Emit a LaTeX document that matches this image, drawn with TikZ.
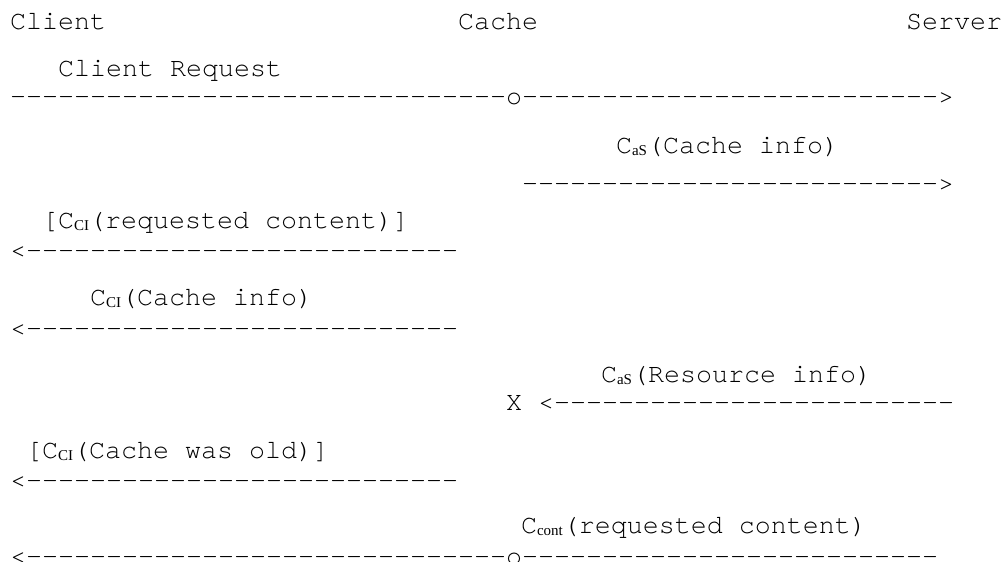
\documentclass[tikz,border=0pt]{standalone}
\usepackage{fontspec}
\setmonofont{TeX Gyre Cursor}[Ligatures=TeXOff]
\newfontfamily\subf{Liberation Serif}
\newcount\myrc
\newcommand\rdash[1]{\myrc=0 \loop\ifnum\myrc<#1 -\advance\myrc by 1 \repeat}
\newcommand\sbs[1]{\raisebox{-2pt}{\subf\fontsize{15}{15}\selectfont #1}}
\begin{document}
\begin{tikzpicture}[x=1pt,y=-1pt,
  txt/.style={anchor=base west,inner sep=0pt,outer sep=0pt,font=\ttfamily\fontsize{26.67}{30}\selectfont}]
\useasboundingbox[fill=white] (0,0) rectangle (1007,562);
% header
\node[txt] (client) at (10,29) {Client};
\node[txt] (cache) at (458,29) {Cache};
\node[txt] (server) at (906,29) {Server};
% 1
\node[txt] (l1) at (58,76) {Client Request};
\node[txt] (a1) at (10,104) {\rdash{31}o\rdash{26}>};
% 2
\node[txt] (l2) at (616,153) {C\sbs{aS}(Cache info)};
\node[txt] (a2) at (522,191) {\rdash{26}>};
% 3
\node[txt] (l3) at (42,228) {[C\sbs{CI}(requested content)]};
\node[txt] (a3) at (10,258) {<\rdash{27}};
% 4
\node[txt] (l4) at (90,305) {C\sbs{CI}(Cache info)};
\node[txt] (a4) at (10,336) {<\rdash{27}};
% 5
\node[txt] (l5) at (601,382) {C\sbs{aS}(Resource info)};
\node[txt] (a5) at (506,410) {X <\rdash{25}};
% 6
\node[txt] (l6) at (26,458) {[C\sbs{CI}(Cache was old)]};
\node[txt] (a6) at (10,488) {<\rdash{27}};
% 7
\node[txt] (l7) at (521,533) {C\sbs{cont}(requested content)};
\node[txt] (a7) at (10,564) {<\rdash{30}o\rdash{26}};
\end{tikzpicture}
\end{document}
